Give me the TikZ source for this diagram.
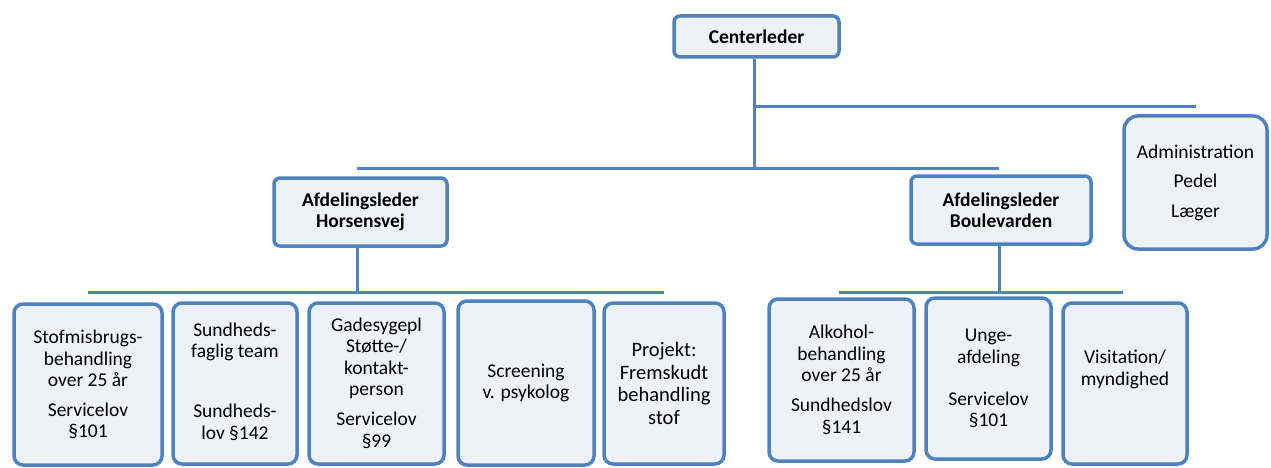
\documentclass[tikz,border=0pt]{standalone}
\usepackage{fontspec}
\setmainfont{Carlito}
\definecolor{bl}{HTML}{4F81BD}
\definecolor{bf}{HTML}{EDF2F9}
\begin{document}
\begin{tikzpicture}[x=1pt,y=-1pt,
  box/.style={draw=bl, fill=bf, line width=3.5pt, rounded corners=9pt, align=center, inner sep=0pt,
    font=\fontsize{19.5}{21.5}\selectfont},
  lead/.style={box, rounded corners=6pt, font=\fontsize{19.5}{21}\selectfont\bfseries},
  conn/.style={draw=bl, line width=3pt}]
\useasboundingbox (0,0) rectangle (1271,468);
% connectors (behind)
\coordinate (a1) at (754,107);
\coordinate (a2) at (1196,107);
\coordinate (b0) at (754,168);
\coordinate (b1) at (357,168);
\coordinate (b2) at (999,168);
\coordinate (c0) at (357,292);
\coordinate (c1) at (88,292);
\coordinate (c2) at (664,292);
\coordinate (d0) at (999,292);
\coordinate (d1) at (839,292);
\coordinate (d2) at (1123,292);
\node[lead, minimum width=165pt, minimum height=41pt] (cl) at (756.5,36.5) {Centerleder};
\draw[conn] (cl.south -| b0) -- (b0);
\draw[conn] (a1) -- (a2);
\draw[conn] (b1) -- (b2);
\draw[conn] (c1) -- (c2);
\draw[conn] (d1) -- (d2);
\node[lead, minimum width=173pt, minimum height=68pt] (hv) at (360.5,212) {Afdelingsleder\\Horsensvej};
\node[lead, minimum width=180pt, minimum height=68pt] (bv) at (1001,210) {Afdelingsleder\\Boulevarden};
\draw[conn] (hv.south -| c0) -- (c0);
\draw[conn] (bv.south -| d0) -- (d0);
\node[box, rounded corners=14pt, minimum width=143pt, minimum height=133pt] (adm) at (1195.5,182.5)
  {Administration\\[8pt]Pedel\\[8pt]Læger};
% Horsensvej units
\node[box, minimum width=148pt, minimum height=161pt] (h1) at (88,384.5)
  {Stofmisbrugs-\\behandling\\over 25 år\\[8pt]Servicelov\\§101};
\node[box, minimum width=124pt, minimum height=161pt] (h2) at (235,383.5)
  {\mbox{}\\[-11.5pt]Sundheds-\\faglig team\\[38.5pt]Sundheds-\\lov §142};
\node[box, minimum width=135pt, minimum height=161pt] (h3) at (376.5,383.5)
  {\mbox{}\\[-9pt]Gadesygepl\\Støtte-/\\kontakt-\\person\\[8.5pt]Servicelov\\§99};
\node[box, minimum width=136pt, minimum height=164pt] (h4) at (526,383)
  {Screening\\v. psykolog};
\node[box, minimum width=120pt, minimum height=161pt, font=\fontsize{20.5}{22.5}\selectfont] (h5) at (664,383.5)
  {Projekt:\\Fremskudt\\behandling\\stof};
% Boulevarden units
\node[box, minimum width=145pt, minimum height=162pt] (b1n) at (841.5,380)
  {Alkohol-\\behandling\\over 25 år\\[8.5pt]Sundhedslov\\§141};
\node[box, minimum width=125pt, minimum height=161pt] (b2n) at (988.5,378.5)
  {Unge-\\afdeling\\[20.5pt]Servicelov\\§101};
\node[box, minimum width=124pt, minimum height=161pt] (b3n) at (1125,383.5)
  {Visitation/\\myndighed\\[10pt]\mbox{}};
\end{tikzpicture}
\end{document}
